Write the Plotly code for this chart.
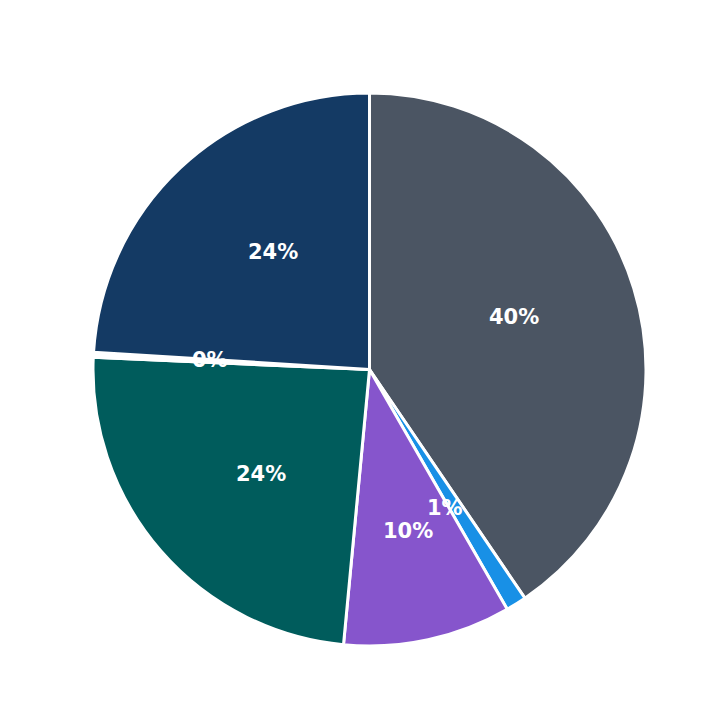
import math
import plotly.graph_objects as go

labels = ["A", "B", "C", "D", "E", "F"]
values = [40.5, 1.2, 9.8, 24.2, 0.3, 24.0]
colors = ["#4B5563", "#1890E6", "#8655CC", "#005C5C", "#FFFFFF", "#143A64"]

fig = go.Figure(go.Pie(
    labels=labels, values=values, sort=False, direction="clockwise", rotation=0,
    marker=dict(colors=colors, line=dict(color="white", width=3)),
    textinfo="none", hoverinfo="label+percent",
    domain=dict(x=[0, 1], y=[0, 1]),
))

total = sum(values)
cum = 0
cx, cy = 0.5, 0.5
for v in values:
    mid = (cum + v / 2) / total * 2 * math.pi
    cum += v
    r = 0.65 * 0.5
    fig.add_annotation(x=cx + r * math.sin(mid), y=cy + r * math.cos(mid),
                       xref="paper", yref="paper", showarrow=False,
                       text=f"{round(v / total * 100)}%",
                       font=dict(color="white", size=21, family="DejaVu Sans", weight="bold"))

fig.update_layout(width=723, height=723, showlegend=False,
                  margin=dict(l=85, r=85, t=85, b=85, autoexpand=False),
                  paper_bgcolor="white", font=dict(family="DejaVu Sans"))
fig.write_html("out.html")
